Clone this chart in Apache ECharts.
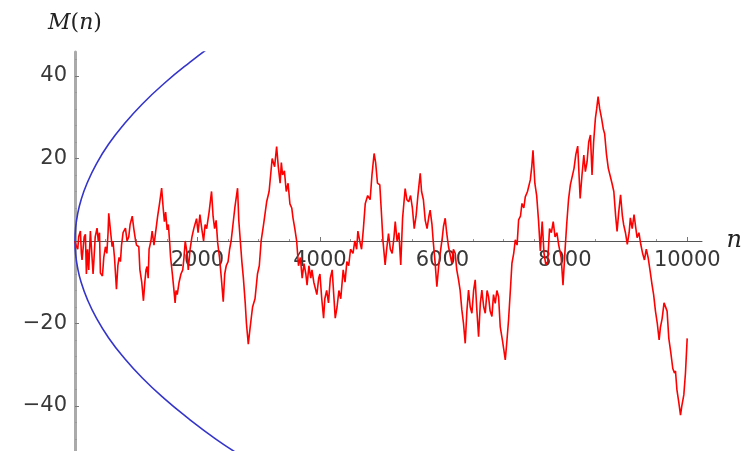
<!DOCTYPE html>
<html>
<head>
<meta charset="utf-8">
<script src="https://cdn.jsdelivr.net/npm/echarts@6/dist/echarts.min.js"></script>
<style>
  html, body { margin: 0; padding: 0; background: #fff; }
  #chart { width: 743px; height: 451px; }
</style>
</head>
<body>
<div id="chart"></div>
<script>
// M(n), [n, M(n)] pairs, in pieces along the n axis
const mertensA = [[0,0],[15,-1],[33,-0.6],[45,-2],[60,1],[88,2.4],[104,-3],[115,-4.6],[150,1],[170,1.6],[186,-8],[205,-2],[224,-7],[251,2.4],[270,-2],[295,-8],[306,-5.4],[330,1],[360,3.1],[380,0],[400,2],[415,-7.8],[448,-8.5],[470,-4],[497,-1.4],[520,-3],[540,2],[551,6.7],[578,7],[606,-1.4],[620,0],[645,-4],[677,-11.7],[700,-6],[720,-4],[742,-5],[760,-1],[785,2],[824,3.1],[850,0],[878,1],[900,4],[935,6],[960,3],[987,0.3],[1005,-1],[1042,-1.4],[1060,-7],[1090,-10],[1118,-14.5],[1140,-10],[1160,-7],[1178,-6.2],[1195,-9],[1210,-2],[1240,0],[1260,2.4],[1290,-1],[1315,-0.6],[1350,6],[1380,9],[1415,12.8],[1440,8],[1460,4.7],[1480,7],[1505,2.7],[1525,4],[1549,-1]];
const mertensB = [[1560,-3.8],[1590,-8],[1610,-11],[1635,-15],[1650,-12],[1670,-13],[1700,-10],[1730,-8],[1760,-7],[1780,-4],[1800,0],[1830,-3],[1850,-7],[1880,-2],[1910,1],[1940,3],[1985,5.4],[2010,2],[2040,6.4],[2070,3],[2100,0],[2125,4],[2150,3],[2190,7],[2230,12],[2255,6],[2280,3],[2305,5],[2330,-0.4],[2360,-4],[2390,-9],[2421,-14.7],[2445,-8],[2470,-6],[2500,-5],[2525,-2],[2550,0],[2580,4],[2610,8],[2655,12.8],[2675,5],[2700,0],[2725,-5],[2750,-9],[2780,-15],[2800,-20],[2830,-25],[2860,-21],[2900,-16],[2940,-14],[2980,-8],[3010,-6],[3040,0],[3080,4],[3130,9.5],[3170,12],[3220,20],[3260,18],[3293,22.9]];
const mertensC = [[3320,18],[3350,14],[3370,19],[3390,16],[3420,17],[3450,12],[3480,14],[3510,9],[3540,8],[3560,5.6],[3590,3],[3620,0],[3650,-6],[3680,-4],[3710,-9],[3740,-5.5],[3770,-8],[3790,-10.7],[3820,-6],[3850,-9],[3870,-7],[3900,-10],[3950,-13],[3980,-9],[4000,-8],[4030,-14],[4060,-18.7],[4080,-14],[4110,-12],[4140,-15],[4170,-9],[4200,-7],[4230,-14],[4250,-18.7],[4280,-16],[4310,-12],[4340,-14],[4380,-7],[4410,-10],[4440,-5],[4470,-6],[4500,-2],[4540,-3],[4570,0],[4600,-2],[4620,2.4],[4650,0],[4680,-2],[4710,3],[4740,9],[4780,11],[4820,10],[4850,16],[4885,21.2],[4910,19],[4940,14],[4978,13.6]];
const mertensD = [[5000,8],[5030,0],[5065,-5.8],[5090,-2],[5120,1.8],[5150,-2],[5180,-3],[5210,1],[5230,4.7],[5260,0],[5290,2],[5320,-5.8],[5350,5.5],[5392,12.7],[5420,10],[5450,9.5],[5480,11],[5510,8],[5540,3],[5570,6],[5600,11],[5638,16.4],[5660,12],[5690,10],[5720,5],[5750,3],[5780,6],[5800,7.5],[5830,4],[5850,0],[5880,-5],[5910,-11.1],[5940,-6],[5970,-2.4],[6000,1],[6018,3.5],[6046,5.5],[6070,2],[6100,-1.4],[6130,-1],[6155,-5.4],[6180,-2],[6209,-3],[6235,-7],[6264,-9.4],[6290,-12],[6318,-16.7],[6345,-20],[6373,-24.8],[6400,-17],[6427,-11.9],[6455,-16],[6482,-17.5],[6510,-12],[6536,-9.4],[6560,-16],[6591,-23.2]];
const mertensE = [[6620,-15],[6645,-11.9],[6675,-16],[6700,-17.5],[6730,-12],[6754,-13.5],[6780,-17],[6809,-18.3],[6835,-13],[6863,-15.1],[6890,-12],[6918,-13.5],[6945,-20.8],[6980,-24],[7000,-26],[7027,-28.8],[7055,-24],[7081,-19.1],[7110,-12],[7136,-5.4],[7165,-3],[7191,0.3],[7220,-1],[7245,5.1],[7275,6],[7300,9.1],[7330,8],[7354,10.7],[7390,12],[7436,14.8],[7460,18],[7480,22],[7510,14],[7540,11],[7570,5],[7600,-2.4],[7630,4.7],[7660,-3],[7690,-5.8],[7720,-5],[7750,3],[7780,2],[7810,4.7],[7840,1],[7870,2],[7900,-1],[7940,-4],[7970,-10.7],[8000,-3],[8030,4],[8060,10],[8090,13.6],[8120,14],[8150,17.6],[8180,21],[8210,23],[8250,10.3],[8280,16],[8310,20.8]];
const mertensF = [[8335,16.8],[8363,19.2],[8390,24],[8418,25.7],[8444,16],[8470,24],[8499,29.7],[8520,32],[8543,35],[8570,32],[8600,29.7],[8630,27],[8650,26],[8680,21],[8710,17.6],[8740,15.8],[8770,14],[8800,12],[8830,6],[8853,2.3],[8880,7],[8910,11.2],[8940,6],[8960,4],[8990,2],[9020,-0.8],[9050,2],[9070,5.6],[9100,3],[9130,6.4],[9160,3],[9180,0.8],[9210,2],[9240,-0.8],[9270,-3],[9300,-4.6],[9330,-2],[9360,-4],[9390,-7],[9425,-10.7],[9450,-13],[9480,-17],[9510,-20],[9540,-24],[9560,-21],[9589,-18.8],[9620,-15],[9643,-14.7],[9670,-17],[9698,-23.6],[9730,-27],[9763,-30.9],[9790,-32],[9807,-31.5],[9830,-36],[9860,-39],[9889,-42.2],[9910,-40],[9943,-37.3],[9970,-32],[9998,-23.6]];

// the blue envelope
const envelopeN = [0, 10, 40, 100, 200, 350, 550, 800, 1100, 1450, 1850, 2300, 2750];
const envelopeUp = [0, 3.2, 6.3, 10, 14.1, 18.7, 23.5, 28.3, 33.2, 38.1, 43, 48, 52.4];
const envelopeDown = [0, -3.2, -6.3, -10, -14.1, -18.7, -23.5, -28.3, -33.2, -38.1, -43, -48, -52.4];

const xTicks = [2000, 4000, 6000, 8000, 10000];
const yTicks = [-40, -20, 20, 40];

const mertens = [].concat(mertensA, mertensB, mertensC, mertensD, mertensE, mertensF);

let xMinor = [];
for (let v = 500; v <= 10000; v += 500) if (v % 2000) xMinor.push(v);
let yMinor = [];
for (let v = -48; v <= 44; v += 4) if (v % 20) yMinor.push(v);

const X_MIN = 0, X_MAX = 10240, Y_MIN = -50.9, Y_MAX = 45.8;
const GRID_TOP = 52, GRID_H = 399;
// the n axis sits on M = 0, lift it from the grid bottom by hand
const zeroLift = -Math.round(GRID_H * (0 - Y_MIN) / (Y_MAX - Y_MIN));

const chart = echarts.init(document.getElementById('chart'), null, { renderer: 'canvas' });

const labelFont = { fontSize: 21, color: '#383838', fontFamily: 'DejaVu Sans' };

chart.setOption({
  animation: false,
  backgroundColor: '#fff',
  grid: { left: 75, right: 41, top: GRID_TOP, height: GRID_H, outerBoundsMode: 'none' },
  xAxis: [{
    type: 'value', min: X_MIN, max: X_MAX, position: 'bottom', offset: zeroLift,
    axisLine: { onZero: false, lineStyle: { color: '#555', width: 1 } },
    axisTick: { inside: true, length: 4, customValues: xTicks, lineStyle: { color: '#777' } },
    axisLabel: Object.assign({ customValues: xTicks, margin: 9, formatter: v => String(v) }, labelFont),
    splitLine: { show: false },
    name: 'n', nameLocation: 'end', nameGap: 21,
    nameTextStyle: { fontFamily: 'DejaVu Serif', fontStyle: 'italic', fontSize: 24, color: '#222', verticalAlign: 'middle' }
  }, {
    type: 'value', min: X_MIN, max: X_MAX, position: 'bottom', offset: zeroLift,
    axisLine: { show: false, onZero: false },
    axisTick: { inside: true, length: 2, customValues: xMinor, lineStyle: { color: '#999' } },
    axisLabel: { show: false },
    splitLine: { show: false }
  }],
  yAxis: [{
    type: 'value', min: Y_MIN, max: Y_MAX, position: 'left',
    axisLine: { show: true, onZero: false, lineStyle: { color: '#aaa', width: 3 } },
    axisTick: { show: true, inside: true, length: 4, customValues: yTicks, lineStyle: { color: '#777' } },
    axisLabel: Object.assign({
      customValues: yTicks, margin: 8,
      formatter: v => v < 0 ? '\u2212' + Math.abs(v) : String(v)
    }, labelFont),
    splitLine: { show: false },
    name: '{it|M}{up|(}{it|n}{up|)}', nameLocation: 'end', nameGap: 18,
    nameTextStyle: {
      rich: {
        it: { fontFamily: 'DejaVu Serif', fontStyle: 'italic', fontSize: 22, color: '#222' },
        up: { fontFamily: 'DejaVu Serif', fontSize: 22, color: '#222' }
      }
    }
  }, {
    type: 'value', min: Y_MIN, max: Y_MAX, position: 'left',
    axisLine: { show: false, onZero: false },
    axisTick: { show: true, inside: true, length: 2, customValues: yMinor, lineStyle: { color: '#999' } },
    axisLabel: { show: false },
    splitLine: { show: false }
  }],
  series: [{
    type: 'line', smooth: true, showSymbol: false, silent: true,
    data: envelopeN.map((n, i) => [n, envelopeUp[i]]),
    lineStyle: { color: '#3535cc', width: 1.6 }, z: 2
  }, {
    type: 'line', smooth: true, showSymbol: false, silent: true,
    data: envelopeN.map((n, i) => [n, envelopeDown[i]]),
    lineStyle: { color: '#3535cc', width: 1.6 }, z: 2
  }, {
    type: 'line', showSymbol: false, silent: true,
    data: mertens,
    lineStyle: { color: '#ff0000', width: 1.6 }, z: 3
  }]
});
</script>
</body>
</html>
